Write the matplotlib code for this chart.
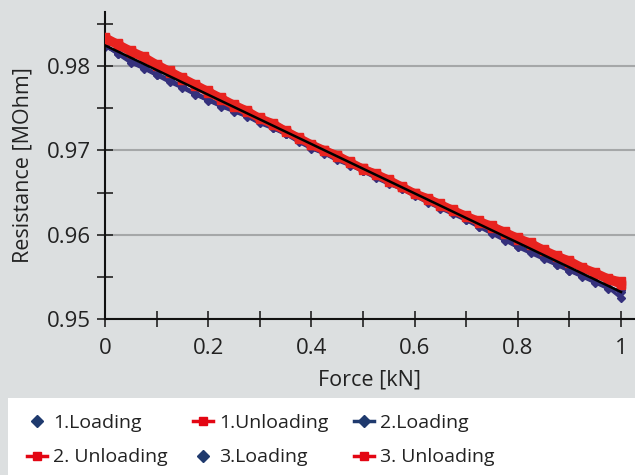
import matplotlib
matplotlib.use("Agg")
import matplotlib.pyplot as plt
from matplotlib.lines import Line2D
from matplotlib.patches import Rectangle
from matplotlib.ticker import MultipleLocator

plt.rcParams['font.family'] = ['Open Sans', 'DejaVu Sans']

force = [0.000, 0.025, 0.050, 0.075, 0.100, 0.125, 0.150, 0.175, 0.200, 0.225,
         0.250, 0.275, 0.300, 0.325, 0.350, 0.375, 0.400, 0.425, 0.450, 0.475,
         0.500, 0.525, 0.550, 0.575, 0.600, 0.625, 0.650, 0.675, 0.700, 0.725,
         0.750, 0.775, 0.800, 0.825, 0.850, 0.875, 0.900, 0.925, 0.950, 0.975,
         1.000]

load1 = [0.98240, 0.98147, 0.98054, 0.97980, 0.97897, 0.97824, 0.97751, 0.97667, 0.97594, 0.97531,
         0.97468, 0.97404, 0.97331, 0.97268, 0.97195, 0.97111, 0.97028, 0.96965, 0.96892, 0.96828,
         0.96755, 0.96682, 0.96609, 0.96545, 0.96472, 0.96389, 0.96316, 0.96252, 0.96179, 0.96096,
         0.96023, 0.95939, 0.95856, 0.95793, 0.95720, 0.95646, 0.95573, 0.95510, 0.95437, 0.95373,
         0.95250]
load2 = [0.98230, 0.98160, 0.98070, 0.97990, 0.97910, 0.97840, 0.97760, 0.97680, 0.97610, 0.97540,
         0.97480, 0.97410, 0.97340, 0.97280, 0.97200, 0.97120, 0.97040, 0.96970, 0.96900, 0.96840,
         0.96760, 0.96690, 0.96620, 0.96550, 0.96480, 0.96400, 0.96320, 0.96260, 0.96190, 0.96110,
         0.96030, 0.95950, 0.95870, 0.95800, 0.95730, 0.95650, 0.95580, 0.95510, 0.95440, 0.95380,
         0.95320]
load3 = [0.98250, 0.98140, 0.98040, 0.97970, 0.97890, 0.97810, 0.97740, 0.97660, 0.97590, 0.97520,
         0.97460, 0.97400, 0.97320, 0.97260, 0.97190, 0.97100, 0.97020, 0.96960, 0.96880, 0.96820,
         0.96750, 0.96670, 0.96600, 0.96540, 0.96460, 0.96380, 0.96310, 0.96240, 0.96170, 0.96090,
         0.96010, 0.95930, 0.95850, 0.95780, 0.95710, 0.95640, 0.95570, 0.95500, 0.95430, 0.95360,
         0.95340]

unload1 = [0.98330, 0.98257, 0.98174, 0.98100, 0.98017, 0.97934, 0.97861, 0.97777, 0.97694, 0.97621,
           0.97538, 0.97464, 0.97381, 0.97318, 0.97235, 0.97151, 0.97068, 0.97005, 0.96942, 0.96858,
           0.96785, 0.96722, 0.96649, 0.96565, 0.96492, 0.96429, 0.96356, 0.96292, 0.96219, 0.96156,
           0.96093, 0.96029, 0.95956, 0.95893, 0.95820, 0.95746, 0.95683, 0.95610, 0.95547, 0.95473,
           0.95420]
unload2 = [0.98310, 0.98240, 0.98160, 0.98090, 0.98000, 0.97920, 0.97840, 0.97760, 0.97680, 0.97600,
           0.97520, 0.97450, 0.97370, 0.97300, 0.97220, 0.97140, 0.97060, 0.96990, 0.96920, 0.96850,
           0.96770, 0.96710, 0.96630, 0.96560, 0.96480, 0.96410, 0.96340, 0.96280, 0.96210, 0.96140,
           0.96080, 0.96010, 0.95940, 0.95880, 0.95810, 0.95740, 0.95670, 0.95600, 0.95530, 0.95460,
           0.95400]
unload3 = [0.98350, 0.98270, 0.98190, 0.98120, 0.98030, 0.97950, 0.97870, 0.97790, 0.97710, 0.97630,
           0.97550, 0.97480, 0.97390, 0.97330, 0.97240, 0.97160, 0.97080, 0.97010, 0.96950, 0.96870,
           0.96790, 0.96730, 0.96660, 0.96580, 0.96500, 0.96440, 0.96370, 0.96300, 0.96230, 0.96170,
           0.96110, 0.96040, 0.95970, 0.95910, 0.95830, 0.95760, 0.95700, 0.95620, 0.95560, 0.95490,
           0.95450]

fit_x = [0.0, 1.0]
fit_y = [0.98245, 0.95320]

labels = ['1.Loading', '1.Unloading', '2.Loading', '2. Unloading', '3.Loading', '3. Unloading']

BG = '#dcdfe0'
RED = '#e8231f'
BLUE = '#34307c'
LBLUE = '#1f3a6e'
LRED = '#e30613'

fig = plt.figure(figsize=(6.35, 4.75), dpi=100, facecolor=BG)
ax = fig.add_axes([105/635, 1-319/475, 1-105/635, (319-12)/475])
ax.set_facecolor(BG)

for s in (load1, load2, load3):
    ax.plot(force, s, color=BLUE, lw=2.4, marker='D', ms=4, zorder=2)
for s in (unload1, unload2, unload3):
    ax.plot(force, s, color=RED, lw=5.0, marker='s', ms=6, zorder=3)
ax.plot(fit_x, fit_y, color='black', lw=1.8, zorder=5)

ax.set_xlim(0, 1.0271)
ax.set_ylim(0.95, 0.98641)
ax.xaxis.set_minor_locator(MultipleLocator(0.1))
ax.yaxis.set_minor_locator(MultipleLocator(0.005))
ax.set_xticks([0, 0.2, 0.4, 0.6, 0.8, 1.0])
ax.set_xticklabels(['0', '0.2', '0.4', '0.6', '0.8', '1'])
ax.set_yticks([0.95, 0.96, 0.97, 0.98])
ax.set_yticklabels(['0.95', '0.96', '0.97', '0.98'])

ax.tick_params(which='both', direction='inout', length=12, width=1.2, color='#222222')
ax.tick_params(axis='x', labelsize=16, pad=8, labelcolor='#222222')
ax.tick_params(axis='y', labelsize=16, pad=4, labelcolor='#222222')
ax.grid(axis='y', which='major', color='#a5a7a8', lw=1.5)
ax.set_axisbelow(True)
for side in ('top', 'right'):
    ax.spines[side].set_visible(False)
for side in ('left', 'bottom'):
    ax.spines[side].set_color('#111111')
    ax.spines[side].set_linewidth(1.5)

ax.set_xlabel('Force [kN]', fontsize=15.5, color='#222222', labelpad=7)
ax.set_ylabel('Resistance [MOhm]', fontsize=15.5, color='#222222', labelpad=10)

fig.patches.append(Rectangle((8/635, 0), 1-8/635, (475-398)/475, transform=fig.transFigure,
                             facecolor='white', edgecolor='none', zorder=0))

handles = [
    Line2D([], [], color=LBLUE, ls='none', marker='D', ms=6),
    Line2D([], [], color=LRED, lw=2.5, marker='s', ms=6),
    Line2D([], [], color=LBLUE, lw=2.5, marker='D', ms=6),
    Line2D([], [], color=LRED, lw=2.5, marker='s', ms=6),
    Line2D([], [], color=LBLUE, ls='none', marker='D', ms=6),
    Line2D([], [], color=LRED, lw=2.5, marker='s', ms=6),
]
order = [0, 3, 1, 4, 2, 5]
fig.legend([handles[i] for i in order], [labels[i] for i in order], ncol=3,
           loc='upper left', bbox_to_anchor=(19/635, 1-406/475), frameon=False,
           fontsize=14, handlelength=1.05, handletextpad=0.3, columnspacing=1.3,
           labelspacing=0.85, borderaxespad=0, labelcolor='#222222')

fig.savefig('out.png', dpi=100, facecolor=BG)
